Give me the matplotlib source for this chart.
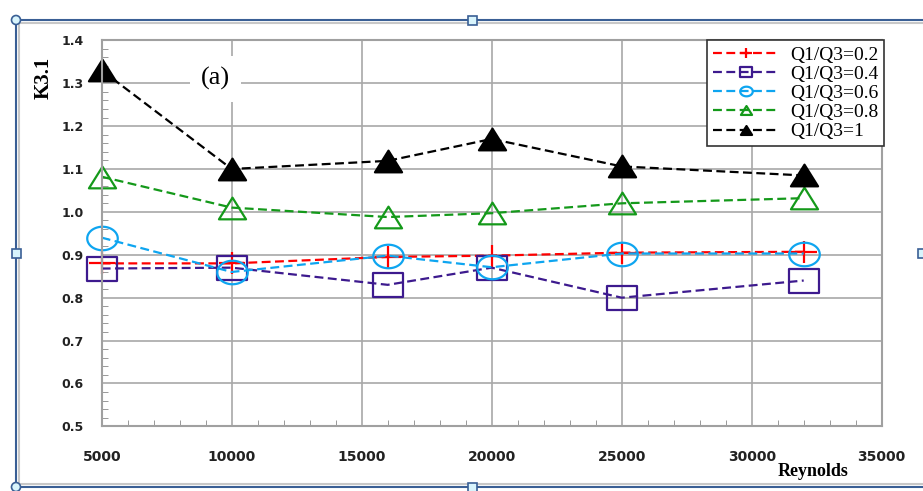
import matplotlib.pyplot as plt
from matplotlib.lines import Line2D
from matplotlib.path import Path
from matplotlib.patches import Rectangle, Ellipse
from matplotlib.transforms import ScaledTranslation
import numpy as np

# Reynolds numbers and K3.1 values
reynolds = [5000, 10000, 16000, 20000, 25000, 32000]
k_02 = [0.880, 0.880, 0.895, 0.898, 0.905, 0.907]
k_04 = [0.868, 0.870, 0.830, 0.870, 0.800, 0.840]
k_06 = [0.940, 0.860, 0.898, 0.871, 0.903, 0.903]
k_08 = [1.082, 1.010, 0.988, 0.997, 1.020, 1.032]
k_10 = [1.330, 1.100, 1.119, 1.170, 1.106, 1.085]

labels = ["Q1/Q3=0.2", "Q1/Q3=0.4", "Q1/Q3=0.6", "Q1/Q3=0.8", "Q1/Q3=1"]
xticks = [5000, 10000, 15000, 20000, 25000, 30000, 35000]
yticks = [0.5, 0.6, 0.7, 0.8, 0.9, 1.0, 1.1, 1.2, 1.3, 1.4]

# slightly wide markers, like the stretched Excel picture
t = np.linspace(0, 2 * np.pi, 60)
ell = Path(list(zip(np.cos(t), 0.77 * np.sin(t))), closed=True)
tri = Path([(-1, -0.8), (1, -0.8), (0, 0.8), (-1, -0.8)], closed=True)
sq = Path([(-1, -0.8), (1, -0.8), (1, 0.8), (-1, 0.8), (-1, -0.8)], closed=True)
plus = Path([(-1, 0), (1, 0), (0, -0.85), (0, 0.85)],
            [Path.MOVETO, Path.LINETO, Path.MOVETO, Path.LINETO])

series = [
    (k_02, "#ff0000", plus, 19, "none"),
    (k_04, "#3d1a8e", sq, 21.5, "none"),
    (k_06, "#0ea5f0", ell, 22, "none"),
    (k_08, "#14991a", tri, 19.5, "none"),
    (k_10, "#000000", tri, 19.5, "#000000"),
]

fig = plt.figure(figsize=(9.23, 4.91), dpi=100)
ax = fig.add_axes([101.7 / 923, 1 - 426.4 / 491, 780 / 923, 386.1 / 491])

for vals, col, mk, ms, fc in series:
    ax.plot(reynolds, vals, color=col, lw=1.6, linestyle=(0, (4, 2)),
            marker=mk, markersize=ms, markerfacecolor=fc,
            markeredgecolor=col, markeredgewidth=1.6, clip_on=False)

ax.set_xlim(5000, 35000)
ax.set_ylim(0.5, 1.4)
ax.set_xticks(xticks)
ax.set_yticks(yticks)
ax.set_xticks(range(5000, 35001, 1000), minor=True)
ax.set_yticks([0.5 + 0.02 * i for i in range(46)], minor=True)
ax.set_xticklabels([str(v) for v in xticks], fontsize=10, fontweight="bold",
                   color="#222222")
ax.set_yticklabels(["%.1f" % v for v in yticks], fontsize=9, fontweight="bold",
                   color="#222222")
# Excel put the x labels a little left of their gridlines
shift = ScaledTranslation(-0.08, 0, fig.dpi_scale_trans)
for lab in ax.get_xticklabels():
    lab.set_transform(lab.get_transform() + shift)
ax.tick_params(which="major", length=0)
ax.tick_params(axis="x", which="major", pad=17)
ax.tick_params(axis="y", which="major", pad=13)
ax.tick_params(which="minor", direction="in", length=4, color="#888888")
ax.grid(True, which="major", color="#a8a8a8", lw=1.2)
ax.set_axisbelow(True)
for s in ax.spines.values():
    s.set_color("#a0a0a0")
    s.set_linewidth(1.5)

ax.text(0.1456, 0.90, "(a)", transform=ax.transAxes, fontsize=19,
        family="Liberation Serif", ha="center", va="center",
        bbox=dict(facecolor="white", edgecolor="none", pad=8))

fig.text(44 / 923, 1 - 77.5 / 491, "K3.1", rotation=90, fontsize=15,
         family="Liberation Serif", fontweight="bold", ha="center", va="center")
fig.text(813 / 923, 1 - 471.7 / 491, "Reynolds", fontsize=13,
         family="Liberation Serif", fontweight="bold", ha="center", va="center")

# legend with small markers
small = [(plus, 9), (sq, 9), (ell, 9), (tri, 8), (tri, 8)]
handles = []
for (vals, col, mk, ms, fc), (smk, sms) in zip(series, small):
    handles.append(Line2D([], [], color=col, lw=1.6, linestyle=(0, (4, 2)),
                          marker=smk, markersize=sms, markerfacecolor=fc,
                          markeredgecolor=col, markeredgewidth=1.6))
leg = ax.legend(handles, labels, loc="upper right", bbox_to_anchor=(1.003, 1.0),
                borderaxespad=0, fancybox=False, framealpha=1,
                prop={"family": "Liberation Serif", "size": 14},
                handlelength=3.4, handletextpad=0.55, labelspacing=0.08,
                borderpad=0.3)
leg.get_frame().set_edgecolor("#333333")
leg.get_frame().set_linewidth(1.2)

# Excel style selection frame around the chart
W, H = 923.0, 491.0
fig.add_artist(Rectangle((19 / W, 1 - 484 / H), 1.0, (484 - 23) / H,
                         transform=fig.transFigure, fill=False,
                         edgecolor="#c8c8c8", lw=1.5))
fig.add_artist(Rectangle((16 / W, 1 - 487 / H), 1.0, (487 - 20) / H,
                         transform=fig.transFigure, fill=False,
                         edgecolor="#3a5f95", lw=1.5))
for hx, hy in [(472, 20), (472, 487), (16, 253), (922, 253)]:
    fig.add_artist(Rectangle(((hx - 4.5) / W, 1 - (hy + 4.5) / H), 9 / W, 9 / H,
                             transform=fig.transFigure, facecolor="#d8f4fc",
                             edgecolor="#3a5f95", lw=1.2))
for hx, hy in [(16, 20), (16, 487)]:
    fig.add_artist(Ellipse((hx / W, 1 - hy / H), 9 / W, 9 / H,
                           transform=fig.transFigure, facecolor="#d8f4fc",
                           edgecolor="#3a5f95", lw=1.2))

fig.savefig("out.png", dpi=100)
